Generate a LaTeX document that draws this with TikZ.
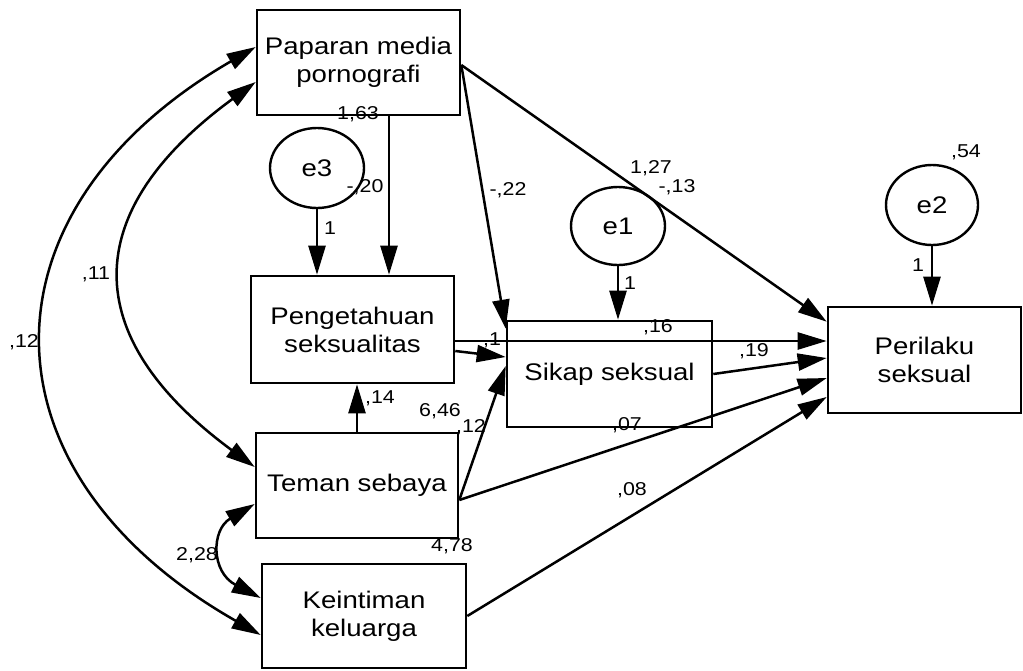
\documentclass[tikz,border=0pt]{standalone}
\usepackage{fontspec}
\setmainfont{Liberation Sans}[FakeStretch=1.15]
\usetikzlibrary{arrows.meta,shapes.geometric}
\tikzset{
  box/.style={draw,line width=2.6pt,rectangle,align=center,inner sep=0pt,
    font=\fontsize{24}{28}\selectfont},
  err/.style={draw,line width=2.4pt,ellipse,inner sep=0pt,
    font=\fontsize{24}{28}\selectfont},
  arr/.style={line width=2.5pt,-{Triangle[length=29pt,width=17pt]}},
  darr/.style={line width=2.5pt,{Triangle[length=29pt,width=17pt]}-{Triangle[length=29pt,width=17pt]}},
  lab/.style={inner sep=0pt,font=\fontsize{18.6}{20}\selectfont}
}
\begin{document}
\begin{tikzpicture}[x=1pt,y=-1pt]
\useasboundingbox (0,0) rectangle (1023,670);
% nodes
\node[box,minimum width=203pt,minimum height=105pt] (pap) at (358.5,62.5) {Paparan media\\pornografi};
\node[box,minimum width=203pt,minimum height=107pt] (pen) at (352.5,329.5) {Pengetahuan\\seksualitas};
\node[box,minimum width=202pt,minimum height=105pt] (tem) at (357,485.5) {Teman sebaya};
\node[box,minimum width=204pt,minimum height=104pt] (kei) at (364,616) {Keintiman\\keluarga};
\node[box,minimum width=205pt,minimum height=106pt] (sik) at (609.5,374) {Sikap seksual};
\node[box,minimum width=193pt,minimum height=106pt] (per) at (924.5,360) {Perilaku\\seksual};
\node[err,minimum width=94pt,minimum height=80pt] (e3) at (317,168) {e3};
\node[err,minimum width=94pt,minimum height=78pt] (e1) at (618,226) {e1};
\node[err,minimum width=92pt,minimum height=80pt] (e2) at (932,205) {e2};
% connectors
\draw[arr] ([xshift=30.5pt]pap.south) -- ([xshift=36.5pt]pen.north);
\draw[arr] (e3.south) -- (e3.south |- pen.north);
\draw[arr] ([yshift=-2.5pt]pap.east) -- ([yshift=-9pt]sik.north west);
\draw[arr] ([yshift=-2.5pt]pap.east) -- ([yshift=-16pt]per.north west);
\draw[arr] (e1.south) -- (e1.south |- sik.north);
\draw[arr] (e2.south) -- (e2.south |- per.north);
\draw[arr] ([yshift=-11.5pt]pen.east) -- ([yshift=-11.5pt]pen.east -| per.west);
\draw[arr] ([yshift=-21.5pt]pen.east) -- ([yshift=17pt]sik.west);
\draw[arr] (sik.east) -- ([yshift=2pt]per.west);
\draw[arr] ([yshift=-14.5pt]tem.east) -- ([yshift=-18pt]per.west);
\draw[arr] ([yshift=-14.5pt]tem.east) -- ([yshift=8pt]sik.west);
\draw[arr] (tem.north) -- (tem.north |- pen.south);
\draw[arr] (kei.east) -- ([yshift=-37pt]per.west);
\draw[darr] ([yshift=15.5pt]pap.west) .. controls (-26,210) and (-26,472) .. ([yshift=-19pt]kei.west);
\draw[darr] ([yshift=-19.5pt]pap.west) .. controls (78,212) and (78,337) .. ([yshift=18.5pt]tem.west);
\draw[darr] ([yshift=-18.5pt]tem.west) .. controls (211,530) and (211,572) .. ([yshift=18pt]kei.west);
% labels
\node[lab] (l1) at (358,114) {1,63};
\node[lab] (l2) at (365,187) {-,20};
\node[lab] (l3) at (508,190) {-,22};
\node[lab] (l4) at (330,228) {1};
\node[lab] (l5) at (96,274) {,11};
\node[lab] (l6) at (24,342) {,12};
\node[lab] (l7) at (651,168) {1,27};
\node[lab] (l8) at (677,187) {-,13};
\node[lab] (l9) at (630,283) {1};
\node[lab] (l10) at (658,327) {,16};
\node[lab] (l11) at (492,340) {,1};
\node[lab] (l12) at (627,425) {,07};
\node[lab] (l13) at (754,351) {,19};
\node[lab] (l14) at (918,265) {1};
\node[lab] (l15) at (966,152) {,54};
\node[lab] (l16) at (380,398) {,14};
\node[lab] (l17) at (440,411) {6,46};
\node[lab] (l18) at (471,427) {,12};
\node[lab] (l19) at (452,546) {4,78};
\node[lab] (l20) at (197,555) {2,28};
\node[lab] (l21) at (632,490) {,08};
\end{tikzpicture}
\end{document}
